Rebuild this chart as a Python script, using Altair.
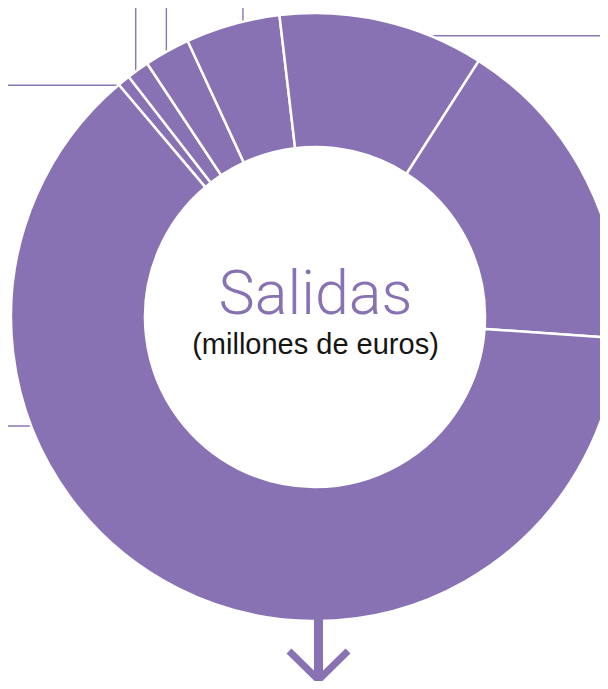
import math
import altair as alt
import pandas as pd

# ---- data -----------------------------------------------------------------
# Slices of the donut, clockwise, starting at the boundary on the upper left
categorias = ["Partida 1", "Partida 2", "Partida 3", "Partida 4",
              "Partida 5", "Partida 6", "Partida 7"]
valores = [0.67, 1.19, 2.43, 5.01, 10.92, 17.06, 62.72]
inicio_grados = 319.8  # angle (clockwise from 12 o'clock) of the first boundary

# Leader lines leaving the ring (angle on the ring, direction towards the edge)
guia_angulo = [-39.4, -36.7, -29.7, -13.9, 20.4, 248.7]
guia_direccion = ["izquierda", "arriba", "arriba", "arriba", "derecha", "izquierda"]

titulo = ["Salidas"]
subtitulo = ["(millones de euros)"]

# Arrow under the ring (chevron points, relative to the ring centre)
flecha_x = [-26, 3.5, 33]
flecha_y = [-334, -363, -334]
flecha_eje_x = [3.5]
flecha_eje_y = [-290]
flecha_eje_y2 = [-363]

# ---- layout -----------------------------------------------------------------
W, H = 592, 673
CX, CY = 307, 309          # ring centre inside the plot, pixels
R_OUT, R_IN = 304, 170
PURPLE = "#8872b3"

xs = alt.Scale(domain=[-CX, W - CX], nice=False, zero=False)
ys = alt.Scale(domain=[-(H - CY), CY], nice=False, zero=False)

# ring
df_arc = pd.DataFrame({
    "categoria": categorias,
    "valor": valores,
    "orden": list(range(len(valores))),
    "cx": [0] * len(valores),
    "cy": [0] * len(valores),
})
t0 = math.radians(inicio_grados)
ring = alt.Chart(df_arc).mark_arc(
    radius=R_OUT, radius2=R_IN, color=PURPLE, stroke="white", strokeWidth=2.5
).encode(
    theta=alt.Theta("valor:Q", stack=True,
                    scale=alt.Scale(range=[t0, t0 + 2 * math.pi])),
    order=alt.Order("orden:Q"),
    x=alt.X("cx:Q", scale=xs, axis=None),
    y=alt.Y("cy:Q", scale=ys, axis=None),
)

# leader lines
rows = []
for a, d in zip(guia_angulo, guia_direccion):
    r = math.radians(a)
    x0 = (R_OUT - 4) * math.sin(r)
    y0 = (R_OUT - 4) * math.cos(r)
    if d == "izquierda":
        x1, y1 = -CX - 10, y0
    elif d == "derecha":
        x1, y1 = W - CX + 10, y0
    else:
        x1, y1 = x0, CY + 10
    rows.append({"x": x0, "y": y0, "x2": x1, "y2": y1})
df_guia = pd.DataFrame(rows)
guias = alt.Chart(df_guia).mark_rule(color="#8a76b5", strokeWidth=1.4).encode(
    x=alt.X("x:Q", scale=xs, axis=None),
    y=alt.Y("y:Q", scale=ys, axis=None),
    x2="x2:Q",
    y2="y2:Q",
)

# arrow
df_eje = pd.DataFrame({"x": flecha_eje_x, "y": flecha_eje_y, "y2": flecha_eje_y2})
eje = alt.Chart(df_eje).mark_rule(color=PURPLE, strokeWidth=9, strokeCap="butt").encode(
    x=alt.X("x:Q", scale=xs, axis=None),
    y=alt.Y("y:Q", scale=ys, axis=None),
    y2="y2:Q",
)
df_punta = pd.DataFrame({"x": flecha_x, "y": flecha_y, "i": [0, 1, 2]})
punta = alt.Chart(df_punta).mark_line(
    color=PURPLE, strokeWidth=7, strokeJoin="miter", strokeCap="butt"
).encode(
    x=alt.X("x:Q", scale=xs, axis=None),
    y=alt.Y("y:Q", scale=ys, axis=None),
    order="i:Q",
)

# centre texts
df_t = pd.DataFrame({"t": titulo, "x": [0.5], "y": [3]})
t1 = alt.Chart(df_t).mark_text(
    font="Roboto", fontSize=61, fontWeight=300, color=PURPLE,
    align="center", baseline="alphabetic"
).encode(
    x=alt.X("x:Q", scale=xs, axis=None),
    y=alt.Y("y:Q", scale=ys, axis=None),
    text="t:N",
)
df_s = pd.DataFrame({"t": subtitulo, "x": [0.5], "y": [-37]})
t2 = alt.Chart(df_s).mark_text(
    font="Liberation Sans", fontSize=29, fontWeight=400, color="#151515",
    align="center", baseline="alphabetic"
).encode(
    x=alt.X("x:Q", scale=xs, axis=None),
    y=alt.Y("y:Q", scale=ys, axis=None),
    text="t:N",
)

chart = alt.layer(guias, ring, eje, punta, t1, t2).properties(
    width=W, height=H, padding=0, autosize=alt.AutoSizeParams(type="none"),
    background="white",
).configure_view(stroke=None)

chart.save("out.html", embed_options={"renderer": "svg", "actions": False})
